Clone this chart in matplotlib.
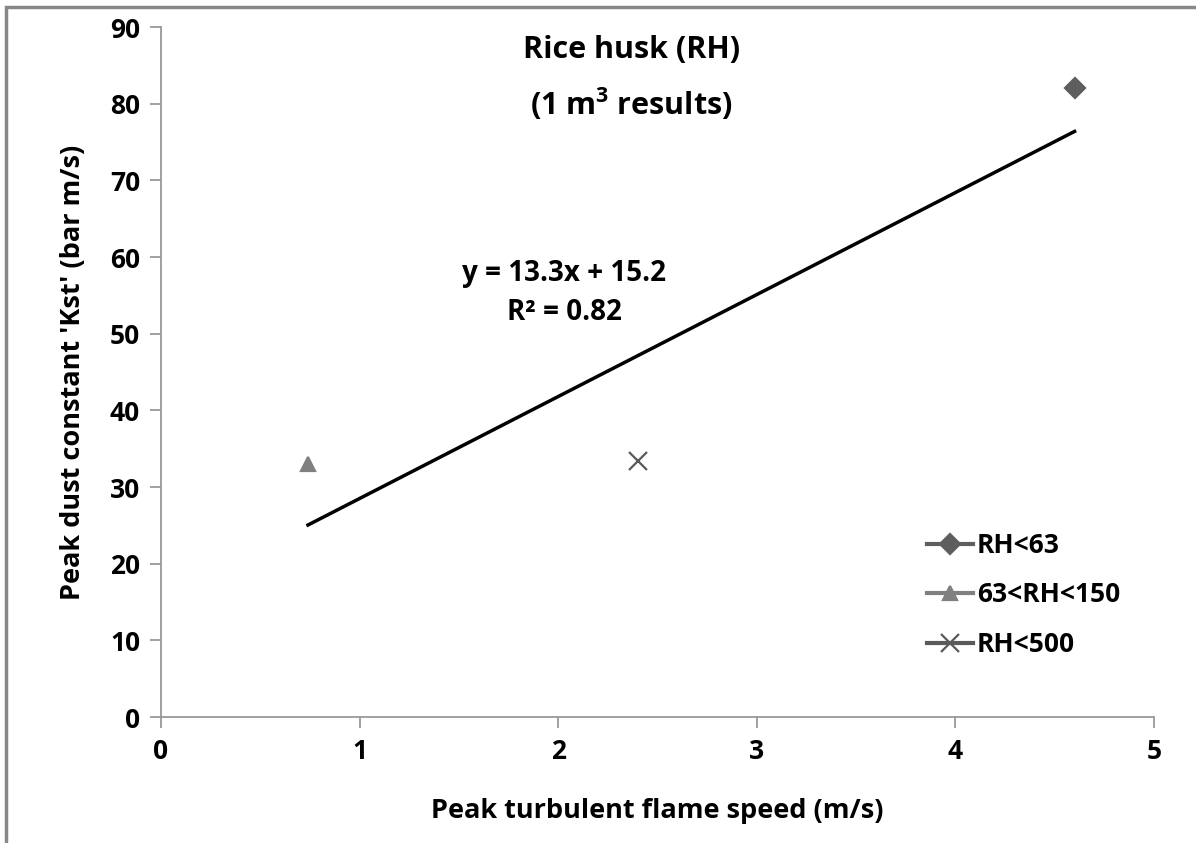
import matplotlib
matplotlib.use("Agg")
import matplotlib.pyplot as plt
from matplotlib.patches import Rectangle

# data
labels = ["RH<63", "63<RH<150", "RH<500"]
flame_speed = [4.6, 0.74, 2.4]
kst = [82.0, 33.0, 33.4]
markers = ["D", "^", "x"]
colors = ["#5e5e5e", "#808080", "#5a5a5a"]
fit_slope, fit_icpt = 13.3, 15.2
fit_x = [0.74, 4.6]
x_ticks = [0, 1, 2, 3, 4, 5]
y_ticks = [0, 10, 20, 30, 40, 50, 60, 70, 80, 90]

plt.rcParams["font.family"] = ["Open Sans", "DejaVu Sans"]
plt.rcParams["font.weight"] = "bold"
plt.rcParams["mathtext.fontset"] = "custom"
plt.rcParams["mathtext.bf"] = "Open Sans:bold"
plt.rcParams["mathtext.rm"] = "Open Sans:bold"

fig = plt.figure(figsize=(11.96, 8.43), dpi=100)
ax = fig.add_axes([161/1196, 1-717/843, (1154-161)/1196, (717-27)/843])
fig.patches.append(Rectangle((6/1196, -0.1), 1.2, 1-7/843+0.1, transform=fig.transFigure,
                             fill=False, edgecolor="#888888", lw=2.5))

for x, y, m, c, lab in zip(flame_speed, kst, markers, colors, labels):
    ms = 10 if m != "x" else 13
    ax.plot([x], [y], marker=m, color=c, ms=ms, mew=1.6, ls="-", lw=3, label=lab)

ax.plot(fit_x, [fit_slope*v + fit_icpt for v in fit_x], color="black", lw=2.5)

ax.set_xlim(0, 5); ax.set_ylim(0, 90)
ax.set_xticks(x_ticks); ax.set_yticks(y_ticks)
for s in ["top", "right"]: ax.spines[s].set_visible(False)
for s in ["left", "bottom"]:
    ax.spines[s].set_color("#999999"); ax.spines[s].set_linewidth(1.3)
ax.tick_params(direction="out", length=8, width=1.3, color="#999999", labelsize=19, pad=7)
for t in ax.get_xticklabels() + ax.get_yticklabels(): t.set_fontweight("bold")

ax.set_xlabel("Peak turbulent flame speed (m/s)", fontsize=19.5, fontweight="bold", labelpad=24)
ax.set_ylabel("Peak dust constant 'Kst' (bar m/s)", fontsize=19.5, fontweight="bold", labelpad=17)

ax.text(2.37, 87.0, "Rice husk (RH)", ha="center", va="center", fontsize=22, fontweight="bold")
ax.text(2.37, 80.0, "(1 m$^3$ results)", ha="center", va="center", fontsize=22, fontweight="bold")
ax.text(2.03, 57.9, f"y = {fit_slope}x + {fit_icpt}", ha="center", va="center", fontsize=20, fontweight="bold")
ax.text(2.03, 52.8, "R² = 0.82", ha="center", va="center", fontsize=20, fontweight="bold")

leg = ax.legend(loc="center left", bbox_to_anchor=(0.758, 0.177), frameon=False, fontsize=19,
                borderpad=0, handlelength=1.75, handletextpad=0.15, labelspacing=0.85, numpoints=1)
for t in leg.get_texts(): t.set_fontweight("bold")

fig.savefig("out.png", dpi=100)
